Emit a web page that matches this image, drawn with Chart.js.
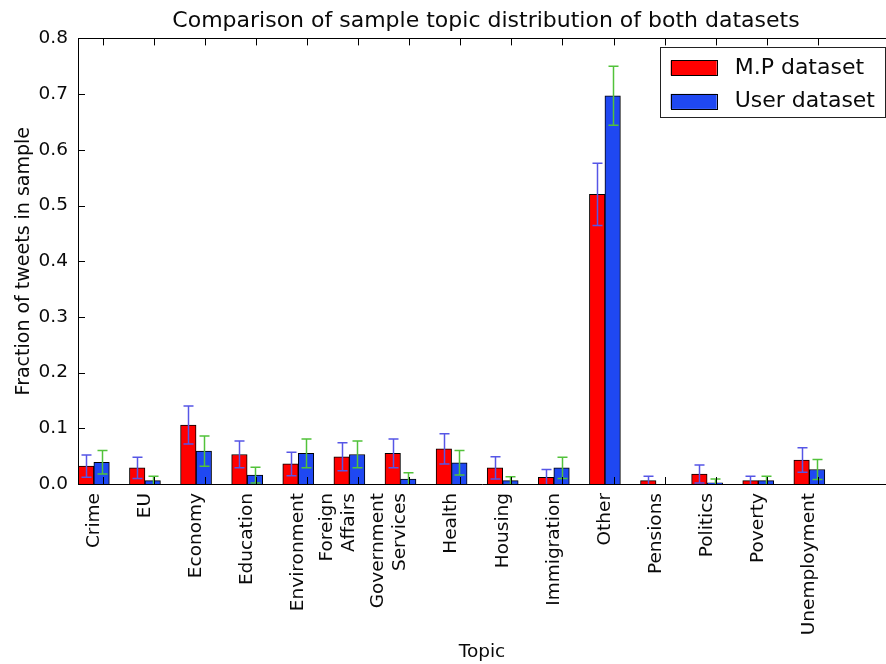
<!DOCTYPE html>
<html>
<head>
<meta charset="utf-8">
<script src="https://cdn.jsdelivr.net/npm/chart.js@4.4.1/dist/chart.umd.min.js"></script>
<style>
  html, body { margin: 0; padding: 0; background: #fff; overflow: hidden; }
  #wrap { width: 886px; height: 664px; position: relative; }
</style>
</head>
<body>
<div id="wrap"><canvas id="chart" width="886" height="664"></canvas></div>
<script>
// Topic categories (two-word topics are split over two lines)
const topics = ['Crime', 'EU', 'Economy', 'Education', 'Environment', ['Foreign', 'Affairs'],
  ['Government', 'Services'], 'Health', 'Housing', 'Immigration', 'Other', 'Pensions',
  'Politics', 'Poverty', 'Unemployment'];

// Fraction of tweets per topic and its error, M.P dataset
const mpShare = [0.032, 0.029, 0.106, 0.053, 0.036, 0.049, 0.055, 0.063, 0.029, 0.012, 0.520, 0.006, 0.018, 0.006, 0.043];
const mpError = [0.020, 0.019, 0.034, 0.024, 0.021, 0.025, 0.026, 0.027, 0.020, 0.014, 0.056, 0.008, 0.016, 0.008, 0.022];

// Fraction of tweets per topic and its error, User dataset
const userShare = [0.039, 0.006, 0.059, 0.016, 0.055, 0.053, 0.009, 0.038, 0.006, 0.029, 0.697, 0.000, 0.002, 0.006, 0.026];
const userError = [0.021, 0.008, 0.027, 0.014, 0.026, 0.024, 0.011, 0.022, 0.007, 0.019, 0.053, 0.000, 0.007, 0.008, 0.018];

// y-axis tick values
const yTicks = [0, 0.1, 0.2, 0.3, 0.4, 0.5, 0.6, 0.7, 0.8];

const FONT = 'DejaVu Sans';
const TEXT = '#0a0a0a';

// Frame, inward tick marks, error bars and the boxed legend
const decorations = {
  id: 'decorations',
  afterLayout(chart) {
    // the axes box runs a little past the canvas edge; centre the title over the whole box
    const t = chart.titleBlock, a = chart.chartArea;
    if (t) { t.left = a.left; t.right = a.right + 8; }
  },
  afterDatasetsDraw(chart) {
    const ctx = chart.ctx, ys = chart.scales.y, a = chart.chartArea;
    ctx.save();
    ctx.beginPath();
    ctx.rect(a.left, a.top, a.right - a.left, a.bottom - a.top);
    ctx.clip();
    chart.data.datasets.forEach((ds, di) => {
      const meta = chart.getDatasetMeta(di);
      meta.data.forEach((bar, i) => {
        const v = ds.data[i].y, e = ds.errors[i];
        if (!e) return;
        const x = Math.round(bar.x) + 0.5;
        const yHi = ys.getPixelForValue(v + e);
        const yLo = ys.getPixelForValue(v - e);
        ctx.strokeStyle = ds.errorColor;
        ctx.lineWidth = 1.5;
        ctx.beginPath();
        ctx.moveTo(x, yHi); ctx.lineTo(x, yLo);
        ctx.moveTo(x - 5, yHi); ctx.lineTo(x + 5, yHi);
        ctx.moveTo(x - 5, yLo); ctx.lineTo(x + 5, yLo);
        ctx.stroke();
      });
    });
    ctx.restore();
  },
  afterDraw(chart) {
    const ctx = chart.ctx, a = chart.chartArea, xs = chart.scales.x, ys = chart.scales.y;
    ctx.save();
    ctx.strokeStyle = '#000';
    ctx.lineWidth = 1;
    // top spine
    ctx.beginPath();
    ctx.moveTo(a.left, Math.round(a.top) + 0.5);
    ctx.lineTo(a.right, Math.round(a.top) + 0.5);
    ctx.stroke();
    // inward ticks on the left spine
    ctx.beginPath();
    yTicks.forEach(v => {
      const y = Math.round(ys.getPixelForValue(v)) + 0.5;
      ctx.moveTo(a.left, y); ctx.lineTo(a.left + 7, y);
    });
    // inward ticks on the bottom and top spines
    topics.forEach((t, i) => {
      const x = Math.round(xs.getPixelForValue(i + 0.17)) + 0.5;
      ctx.moveTo(x, a.bottom); ctx.lineTo(x, a.bottom - 7);
      ctx.moveTo(x, a.top); ctx.lineTo(x, a.top + 7);
    });
    ctx.stroke();

    // legend box in the upper right corner of the axes
    const items = chart.data.datasets;
    ctx.font = '22px "' + FONT + '"';
    const textW = Math.max(...items.map(d => ctx.measureText(d.label).width));
    const swW = 46, swH = 15, padL = 11, gap = 18, padR = 10, rowH = 33.5;
    const boxR = a.right - 1, boxT = a.top + 9;
    const boxW = padL + swW + gap + textW + padR;
    const boxH = 20.5 + rowH + 16;
    const boxL = boxR - boxW;
    ctx.fillStyle = '#fff';
    ctx.fillRect(boxL, boxT, boxW, boxH);
    ctx.strokeStyle = '#222';
    ctx.lineWidth = 1;
    ctx.strokeRect(Math.round(boxL) + 0.5, Math.round(boxT) + 0.5, Math.round(boxW), Math.round(boxH));
    items.forEach((d, k) => {
      const cy = boxT + 20.5 + k * rowH;
      ctx.fillStyle = d.backgroundColor;
      ctx.fillRect(boxL + padL, cy - swH / 2, swW, swH);
      ctx.strokeStyle = '#000';
      ctx.strokeRect(Math.round(boxL + padL) + 0.5, Math.round(cy - swH / 2) + 0.5, swW, swH);
      ctx.fillStyle = TEXT;
      ctx.textBaseline = 'middle';
      ctx.textAlign = 'left';
      ctx.fillText(d.label, boxL + padL + swW + gap, cy);
    });
    ctx.restore();
  }
};

new Chart(document.getElementById('chart'), {
  type: 'bar',
  data: {
    datasets: [
      {
        label: 'M.P dataset',
        data: mpShare.map((v, i) => ({ x: i, y: v })),
        errors: mpError,
        errorColor: '#5656e6',
        backgroundColor: '#ff0000',
        borderColor: '#000',
        borderWidth: 1,
        barThickness: 15.5
      },
      {
        label: 'User dataset',
        data: userShare.map((v, i) => ({ x: i, y: v })),
        errors: userError,
        errorColor: '#52c23a',
        backgroundColor: '#1f48f2',
        borderColor: '#000',
        borderWidth: 1,
        barThickness: 15.5
      }
    ]
  },
  options: {
    responsive: false,
    animation: false,
    layout: { padding: 0 },
    plugins: {
      legend: { display: false },
      tooltip: { enabled: false },
      title: {
        display: true,
        text: 'Comparison of sample topic distribution of both datasets',
        color: TEXT,
        font: { family: FONT, size: 22, weight: 'normal' },
        padding: { top: 8, bottom: 4 }
      }
    },
    scales: {
      x: {
        type: 'linear',
        offset: false,
        min: -0.31,
        max: 15.5,
        bounds: 'data',
        grid: { display: false, drawTicks: false },
        border: { display: true, color: '#000', width: 1 },
        ticks: {
          autoSkip: false,
          minRotation: 90,
          maxRotation: 90,
          padding: 9,
          color: TEXT,
          font: { family: FONT, size: 18.5 },
          callback: (v, i) => topics[i]
        },
        // one tick per topic; two-line labels shift left so their second line sits on the bars
        afterBuildTicks: s => {
          s.ticks = topics.map((t, i) => ({ value: i - (Array.isArray(t) ? (t.length - 1) * 0.44 : 0) }));
        },
        afterFit: s => { s.height = 180; s.paddingLeft = 0; s.paddingRight = 0; },
        title: {
          display: true,
          text: 'Topic',
          color: TEXT,
          font: { family: FONT, size: 18.5 },
          padding: { top: 0, bottom: 1 }
        }
      },
      y: {
        min: 0,
        max: 0.8,
        grid: { display: false, drawTicks: false },
        border: { display: true, color: '#000', width: 1 },
        ticks: {
          stepSize: 0.1,
          padding: 10,
          color: TEXT,
          font: { family: FONT, size: 18.5 },
          callback: v => Number(v).toFixed(1)
        },
        afterFit: s => { s.width = 78; },
        title: {
          display: true,
          text: 'Fraction of tweets in sample',
          color: TEXT,
          font: { family: FONT, size: 19 },
          padding: { top: 13, bottom: 0 }
        }
      }
    }
  },
  plugins: [decorations]
});
</script>
</body>
</html>
